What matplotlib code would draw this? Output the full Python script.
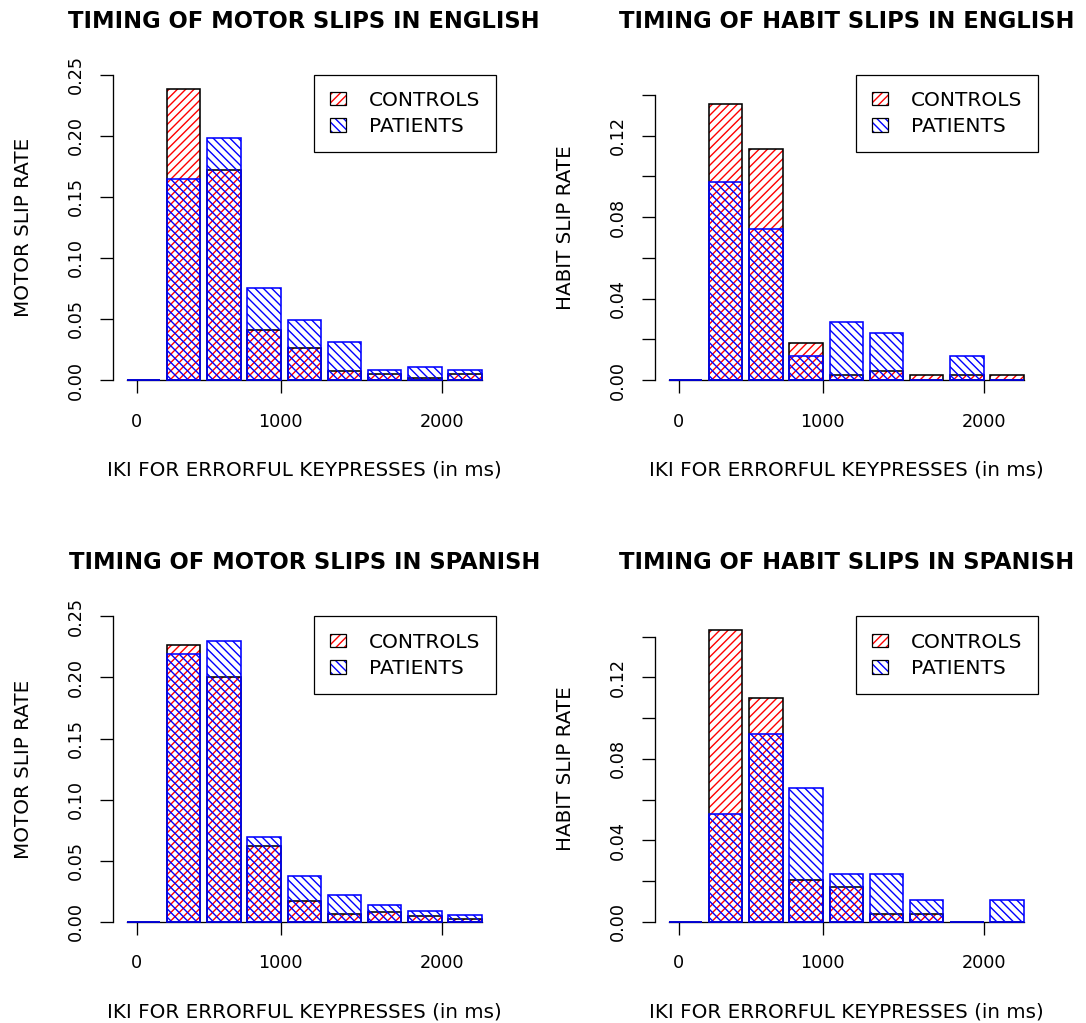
import numpy as np
import matplotlib
matplotlib.use("Agg")
import matplotlib.pyplot as plt
from matplotlib.patches import Patch
from matplotlib.legend_handler import HandlerTuple

# slip rates per 250 ms IKI bin (0-250, 250-500, ..., 2000-2250)
motor_en_controls = [0.0, 0.238, 0.172, 0.041, 0.026, 0.007, 0.005, 0.002, 0.005]
motor_en_patients = [0.0, 0.165, 0.198, 0.075, 0.049, 0.031, 0.008, 0.011, 0.008]
habit_en_controls = [0.0, 0.1355, 0.1133, 0.018, 0.0023, 0.0046, 0.0023, 0.0023, 0.0023]
habit_en_patients = [0.0, 0.0971, 0.0743, 0.0116, 0.0286, 0.0229, 0.0, 0.0116, 0.0]
motor_es_controls = [0.0, 0.2264, 0.200, 0.0617, 0.0169, 0.0066, 0.0079, 0.0047, 0.002]
motor_es_patients = [0.0, 0.2196, 0.230, 0.0693, 0.0371, 0.0218, 0.0134, 0.0085, 0.0052]
habit_es_controls = [0.0, 0.1432, 0.1098, 0.0206, 0.0169, 0.0040, 0.0040, 0.0, 0.0]
habit_es_patients = [0.0, 0.0527, 0.0921, 0.0658, 0.0236, 0.0236, 0.0106, 0.0, 0.0106]

xtick_labels = ["0", "1000", "2000"]
group_labels = ["CONTROLS", "PATIENTS"]

plt.rcParams['font.family'] = ['DejaVu Sans']
plt.rcParams['hatch.linewidth'] = 1.0

RED = '#ff0000'
BLUE = '#0000ff'
NBARS = len(motor_en_controls)
lefts = 0.2 + 1.2 * np.arange(NBARS)      # R barplot layout, width 1, space 0.2
centers = lefts + 0.5
xtick_pos = [0.5, 4.8, 9.6]


def hatched_bars(ax, vals, hcolor, hatch, ecolor):
    ax.bar(centers, vals, width=1.0, facecolor='none', edgecolor=hcolor,
           hatch=hatch, linewidth=0, zorder=3)
    ax.bar(centers, vals, width=1.0, facecolor='none', edgecolor=ecolor,
           linewidth=1.15, zorder=3, clip_on=False)


def panel(ax, title, ylabel, controls, patients, ytop, ystep, labstep):
    hatched_bars(ax, controls, RED, '////', 'black')
    hatched_bars(ax, patients, BLUE, '\\\\\\\\', BLUE)

    ax.set_xlim(lefts[0] - 0.424, lefts[-1] + 1 + 0.424)
    ax.set_ylim(0, ytop)

    for s in ['top', 'right']:
        ax.spines[s].set_visible(False)
    yt = np.arange(0, ytop + 1e-9, ystep)
    yt = yt[yt <= ytop - 0.005 + 1e-9] if ytop < 0.2 else yt
    ax.spines['left'].set_bounds(0, yt[-1])
    ax.spines['bottom'].set_bounds(lefts[0], lefts[-1] + 1)
    ax.spines['bottom'].set_zorder(1)
    for s in ['left', 'bottom']:
        ax.spines[s].set_linewidth(0.95)

    ax.set_yticks(yt)
    k = int(round(labstep / ystep))
    ax.set_yticklabels(["%.2f" % v if i % k == 0 else "" for i, v in enumerate(yt)])
    ax.set_xticks(xtick_pos)
    ax.set_xticklabels(xtick_labels)
    ax.tick_params(axis='both', direction='out', length=9.5, width=0.95,
                   labelsize=12.7)
    ax.tick_params(axis='x', pad=14)
    ax.tick_params(axis='y', pad=10.4, labelrotation=90)
    for lab in ax.get_yticklabels():
        lab.set_va('center')

    ax.set_title(title, fontsize=16.3, fontweight='bold', pad=33.8)
    ax.set_xlabel("IKI FOR ERRORFUL KEYPRESSES (in ms)", fontsize=14.3)
    ax.set_ylabel(ylabel, fontsize=14.3)
    ax.xaxis.set_label_coords(0.5, -0.295)
    ax.xaxis.label.set_va('center')
    ax.yaxis.set_label_coords(-0.232, 0.5)
    ax.yaxis.label.set_va('center')

    hc = (Patch(facecolor='none', edgecolor=RED, hatch='////', linewidth=0),
          Patch(facecolor='none', edgecolor='black', linewidth=0.9))
    hp = (Patch(facecolor='none', edgecolor=BLUE, hatch='\\\\\\\\', linewidth=0),
          Patch(facecolor='none', edgecolor='black', linewidth=0.9))
    leg = ax.legend([hc, hp], group_labels, handler_map={tuple: HandlerTuple(ndivide=1)},
                    loc='upper right', bbox_to_anchor=(1.0, 1.0), borderaxespad=0,
                    fontsize=14.5, fancybox=False, framealpha=1, borderpad=0.8,
                    labelspacing=0.37, handlelength=0.8, handleheight=0.65,
                    handletextpad=1.1)
    leg.get_frame().set_edgecolor('black')
    leg.get_frame().set_linewidth(0.9)
    leg.set_zorder(5)


fig = plt.figure(figsize=(10.86, 10.23), dpi=100)
W, H = 1086.0, 1023.0
axw, axh = 383.5 / W, 305.3 / H
ax1 = fig.add_axes([112.5 / W, (H - 380.0) / H, axw, axh])
ax2 = fig.add_axes([654.5 / W, (H - 380.0) / H, axw, axh])
ax3 = fig.add_axes([112.5 / W, (H - 921.7) / H, axw, axh])
ax4 = fig.add_axes([654.5 / W, (H - 921.7) / H, axw, axh])

panel(ax1, "TIMING OF MOTOR SLIPS IN ENGLISH", "MOTOR SLIP RATE",
      motor_en_controls, motor_en_patients, 0.25, 0.05, 0.05)
panel(ax2, "TIMING OF HABIT SLIPS IN ENGLISH", "HABIT SLIP RATE",
      habit_en_controls, habit_en_patients, 0.15, 0.02, 0.04)
panel(ax3, "TIMING OF MOTOR SLIPS IN SPANISH", "MOTOR SLIP RATE",
      motor_es_controls, motor_es_patients, 0.25, 0.05, 0.05)
panel(ax4, "TIMING OF HABIT SLIPS IN SPANISH", "HABIT SLIP RATE",
      habit_es_controls, habit_es_patients, 0.15, 0.02, 0.04)

fig.savefig("out.png", dpi=100, facecolor='white')
